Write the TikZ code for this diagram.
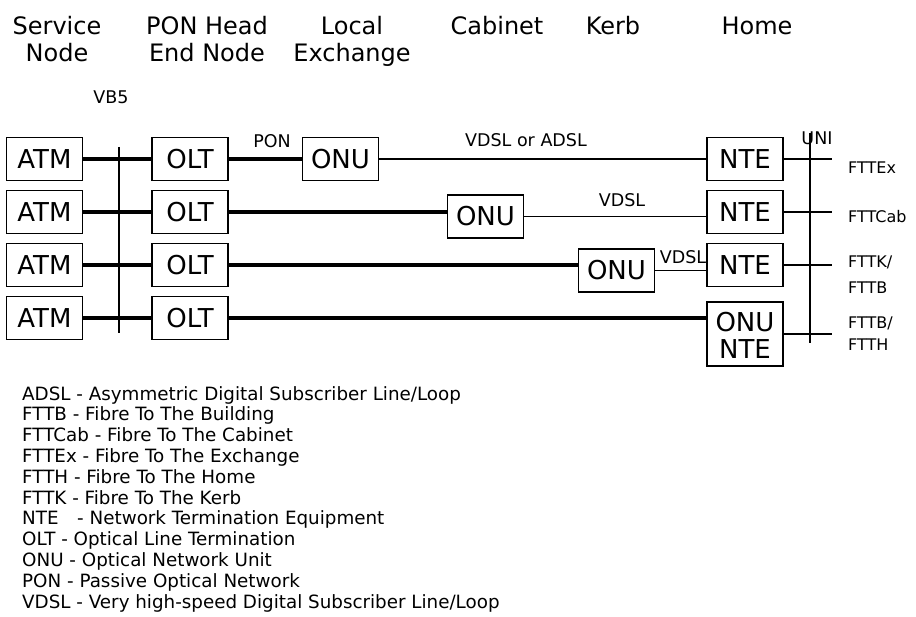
\documentclass[tikz,border=0pt]{standalone}
\usepackage{fontspec}
\setmainfont{DejaVu Sans}
\usetikzlibrary{positioning, calc}

\begin{document}
\begin{tikzpicture}[
    x=1pt, y=-1pt,
    box/.style={rectangle, draw, line width=1.5pt, minimum width=76pt, minimum height=43pt, inner sep=0pt, font=\fontsize{26}{26}\selectfont},
    title/.style={align=center, inner sep=0pt, anchor=north, font=\fontsize{24}{27}\selectfont},
    heading/.style={inner sep=0pt, anchor=base, font=\fontsize{24}{27}\selectfont},
    tag/.style={inner sep=0pt, font=\fontsize{17.5}{19}\selectfont},
    fibre/.style={line width=3.8pt},
    copper/.style={line width=1.3pt},
    bus/.style={line width=1.5pt}
]
\useasboundingbox (0,0) rectangle (916,617);

% Ueberschriften
\node[title] (service) at (57,16) {Service\\Node};
\node[title] (headend) at (207,16) {PON Head\\End Node};
\node[title] (exchange) at (352,16) {Local\\Exchange};
\node[heading] (cabinet) at (497,35) {Cabinet};
\node[heading] (kerb) at (613,35) {Kerb};
\node[heading] (home) at (757,35) {Home};
\node[tag] (vb5) at (111,97) {VB5};

% Boxen
\node[box] (atm1) at (44.5,159) {ATM};
\node[box] (atm2) at (44.5,212) {ATM};
\node[box] (atm3) at (44.5,265) {ATM};
\node[box] (atm4) at (44.5,318) {ATM};
\node[box] (olt1) at (190,159) {OLT};
\node[box] (olt2) at (190,212) {OLT};
\node[box] (olt3) at (190,265) {OLT};
\node[box] (olt4) at (190,318) {OLT};
\node[box] (onu1) at (340.5,159) {ONU};
\node[box] (onu2) at (485.5,216.5) {ONU};
\node[box] (onu3) at (616.5,270.5) {ONU};
\node[box] (nte1) at (745,159) {NTE};
\node[box] (nte2) at (745,212) {NTE};
\node[box] (nte3) at (745,265) {NTE};
\node[box, minimum height=64pt, font=\fontsize{26}{25}\selectfont] (onunte) at (745,334)
  {\raisebox{-5pt}[\height][\depth]{\begin{tabular}{@{}c@{}}ONU\\NTE\end{tabular}}};

% Schnittstellen
\coordinate (vb5top) at (119,147);
\coordinate (vb5bot) at (119,333);
\coordinate (unitop) at (810,133);
\coordinate (unibot) at (810,343);
\draw[bus] (vb5top) -- (vb5bot);
\draw[bus] (unitop) -- (unibot);
\node[tag] (uni) at (817,138) {UNI};

% Leitungen
\draw[fibre] (atm1) -- (olt1);
\draw[fibre] (atm2) -- (olt2);
\draw[fibre] (atm3) -- (olt3);
\draw[fibre] (atm4) -- (olt4);
\draw[fibre] (olt1) -- (onu1);
\draw[fibre] (olt2.east) -- (olt2.east -| onu2.west);
\draw[fibre] (olt3.east) -- (olt3.east -| onu3.west);
\draw[fibre] (olt4.east) -- (olt4.east -| onunte.west);
\draw[copper] (onu1) -- (nte1);
\draw[copper] (onu2.east) -- (onu2.east -| nte2.west);
\draw[copper] (onu3.east) -- (onu3.east -| nte3.west);

% Beschriftungen
\node[tag] (pon) at (272,141) {PON};
\node[tag] (dsl1) at (526,140) {VDSL or ADSL};
\node[tag] (dsl2) at (622,200) {VDSL};
\node[tag] (dsl3) at (683,257) {VDSL};

% Anschluesse
\node[tag, anchor=west, font=\fontsize{16}{19}\selectfont] (fttex) at (848,168) {FTTEx};
\node[tag, anchor=west, font=\fontsize{16}{19}\selectfont] (fttcab) at (848,217) {FTTCab};
\node[tag, anchor=west, align=left, font=\fontsize{16}{26}\selectfont] (fttk) at (848,275) {FTTK/\\FTTB};
\node[tag, anchor=west, align=left, font=\fontsize{16}{22}\selectfont] (ftth) at (848,334) {FTTB/\\FTTH};
\draw[copper] (nte1.east) -- ([xshift=-16pt]nte1.east -| fttex.west);
\draw[copper] (nte2.east) -- ([xshift=-16pt]nte2.east -| fttcab.west);
\draw[copper] (nte3.east) -- ([xshift=-16pt]nte3.east -| fttk.west);
\draw[copper] (onunte.east) -- ([xshift=-16pt]onunte.east -| ftth.west);

% Legende
\node[anchor=north west, inner sep=0pt, align=left, font=\fontsize{18.3}{20.8}\selectfont] (legend) at (22,386) {%
ADSL - Asymmetric Digital Subscriber Line/Loop\\
FTTB - Fibre To The Building\\
FTTCab - Fibre To The Cabinet\\
FTTEx - Fibre To The Exchange\\
FTTH - Fibre To The Home\\
FTTK - Fibre To The Kerb\\
NTE\hspace{0.7em} - Network Termination Equipment\\
OLT - Optical Line Termination\\
ONU - Optical Network Unit\\
PON - Passive Optical Network\\
VDSL - Very high-speed Digital Subscriber Line/Loop};

\end{tikzpicture}
\end{document}
